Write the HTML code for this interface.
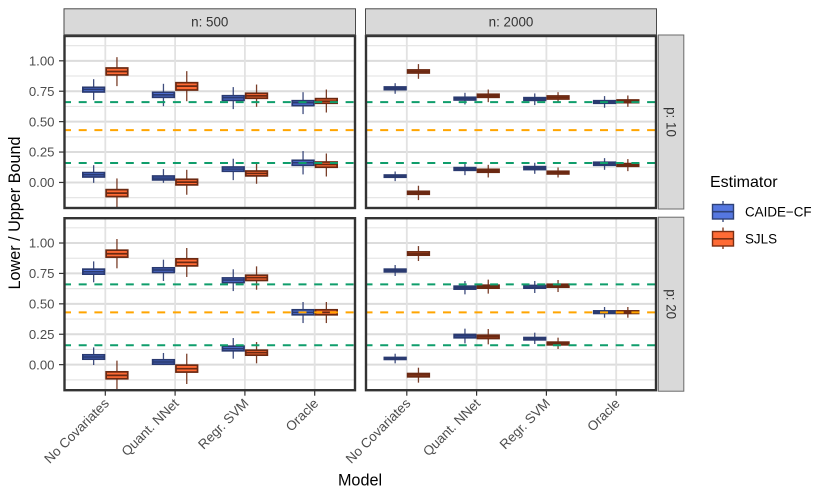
<!DOCTYPE html>
<html>
<head>
<meta charset="utf-8">
<title>Lower / Upper Bound by Model</title>
<style>
html,body{margin:0;padding:0;background:#fff;}
svg{display:block;font-family:"Liberation Sans",sans-serif;}
</style>
</head>
<body>
<svg id="chart" xmlns="http://www.w3.org/2000/svg" width="830" height="498" viewBox="0 0 830 498">
<rect x="0" y="0" width="830" height="498" fill="#ffffff"/>
<text x="360" y="485.5" font-size="16.2" text-anchor="middle" fill="#000">Model</text>
<text transform="translate(20 213) rotate(-90)" font-size="16.2" text-anchor="middle" fill="#000">Lower / Upper Bound</text>
<g>
<text x="710" y="187" font-size="16" fill="#000">Estimator</text>
<g>
<line x1="723" y1="201" x2="723" y2="222" stroke="#2e4177" stroke-width="1.3"/>
<rect x="712.5" y="204.5" width="21" height="14.5" fill="#5577e0" stroke="#2e4177" stroke-width="1.4"/>
<line x1="712.5" y1="211.7" x2="733.5" y2="211.7" stroke="#2e4177" stroke-width="1.6"/>
<text x="745" y="216.5" font-size="13.4" fill="#000">CAIDE−CF</text>
</g>
<g>
<line x1="723" y1="227.5" x2="723" y2="249" stroke="#7a2e12" stroke-width="1.3"/>
<rect x="712.5" y="231.5" width="21" height="14.5" fill="#ff6b35" stroke="#7a2e12" stroke-width="1.4"/>
<line x1="712.5" y1="238.8" x2="733.5" y2="238.8" stroke="#7a2e12" stroke-width="1.6"/>
<text x="745" y="243.5" font-size="13.4" fill="#000">SJLS</text>
</g>
</g>
</svg>
<script>
// Chart data: each row is [lower whisker, Q1, median, Q3, upper whisker]; null = no box
const categories = ["No Covariates", "Quant. NNet", "Regr. SVM", "Oracle"];
const yTickValues = [0, 0.25, 0.5, 0.75, 1];
const yTickLabels = ["0.00", "0.25", "0.50", "0.75", "1.00"];
const yMinorValues = [-0.125, 0.125, 0.375, 0.625, 0.875, 1.125];
const greenRefValues = [0.16, 0.66];
const orangeRefValues = [0.43];
const columnLabels = ["n: 500", "n: 2000"];
const rowLabels = ["p: 10", "p: 20"];

const n500p10CaideUpper = [[.677,.737,.764,.789,.849],[.627,.693,.72,.748,.811],[.603,.668,.696,.72,.784],[.562,.625,.655,.679,.742]];
const n500p10SjlsUpper = [[.792,.877,.912,.948,1.03],[.668,.753,.792,.827,.915],[.622,.685,.712,.74,.805],[.575,.644,.668,.696,.764]];
const n500p10CaideLower = [[-.003,.038,.063,.088,.142],[-.003,.014,.036,.06,.11],[.019,.085,.11,.134,.195],[.066,.134,.162,.189,.258]];
const n500p10SjlsLower = [[-.205,-.123,-.088,-.052,.033],[-.101,-.027,.003,.033,.104],[-.011,.047,.074,.101,.153],[.049,.118,.148,.175,.238]];

const n2000p10CaideUpper = [[.729,.756,.775,.792,.816],[.641,.671,.69,.707,.737],[.636,.668,.685,.704,.732],[.614,.644,.663,.679,.71]];
const n2000p10SjlsUpper = [[.852,.893,.912,.932,.973],[.66,.693,.712,.732,.764],[.66,.679,.699,.718,.742],[.622,.649,.668,.685,.715]];
const n2000p10CaideLower = [[.011,.036,.052,.068,.09],[.06,.093,.11,.129,.156],[.071,.099,.118,.137,.162],[.104,.134,.153,.173,.2]];
const n2000p10SjlsLower = [[-.145,-.104,-.085,-.066,-.027],[.041,.077,.096,.115,.145],[.041,.063,.082,.099,.123],[.093,.126,.142,.162,.192]];

const n500p20CaideUpper = [[.677,.737,.764,.792,.849],[.688,.751,.778,.803,.863],[.605,.668,.696,.72,.784],[.342,.403,.43,.458,.515]];
const n500p20SjlsUpper = [[.792,.877,.912,.948,1.033],[.721,.805,.841,.877,.959],[.616,.685,.715,.742,.808],[.342,.403,.43,.458,.515]];
const n500p20CaideLower = [[-.003,.038,.063,.088,.142],[-.003,-.003,.022,.047,.096],[.049,.107,.132,.159,.219],null];
const n500p20SjlsLower = [[-.208,-.123,-.088,-.052,.033],[-.159,-.068,-.033,.003,.09],[.011,.071,.099,.126,.186],null];

const n2000p20CaideUpper = [[.729,.756,.775,.792,.819],[.578,.614,.633,.652,.688],[.589,.622,.638,.658,.688],[.386,.414,.433,.449,.474]];
const n2000p20SjlsUpper = [[.852,.893,.912,.934,.975],[.584,.622,.641,.66,.699],[.597,.63,.649,.668,.696],[.386,.414,.433,.449,.474]];
const n2000p20CaideLower = [[.011,.036,.052,.066,.09],[.175,.214,.236,.255,.296],[.17,.197,.214,.23,.263],null];
const n2000p20SjlsLower = [[-.148,-.107,-.085,-.066,-.025],[.167,.208,.23,.249,.293],[.129,.156,.175,.192,.222],null];

const panelSeries = [
  [
    [[n500p10CaideUpper, "caide", "upper"], [n500p10SjlsUpper, "sjls", "upper"], [n500p10CaideLower, "caide", "lower"], [n500p10SjlsLower, "sjls", "lower"]],
    [[n2000p10CaideUpper, "caide", "upper"], [n2000p10SjlsUpper, "sjls", "upper"], [n2000p10CaideLower, "caide", "lower"], [n2000p10SjlsLower, "sjls", "lower"]]
  ],
  [
    [[n500p20CaideUpper, "caide", "upper"], [n500p20SjlsUpper, "sjls", "upper"], [n500p20CaideLower, "caide", "lower"], [n500p20SjlsLower, "sjls", "lower"]],
    [[n2000p20CaideUpper, "caide", "upper"], [n2000p20SjlsUpper, "sjls", "upper"], [n2000p20CaideLower, "caide", "lower"], [n2000p20SjlsLower, "sjls", "lower"]]
  ]
];

// Layout and axis functions
const svg = document.getElementById("chart");
const NS = "http://www.w3.org/2000/svg";
const panelLefts = [64.5, 366];
const panelWidths = [290.5, 290];
const panelTops = [36, 218.2];
const panelHeight = 172;
const yMin = -0.21, yMax = 1.204;
const catPad = 40.8, catStep = 69.8, boxWidth = 23.3;
const edgeWidth = 1.7;
const styles = {
  caide: {fill: "#5577e0", edge: "#2a3a70"},
  sjls: {fill: "#ff6b35", edge: "#6b2912"}
};

function yScale(row, v) {
  return panelTops[row] + (yMax - v) / (yMax - yMin) * panelHeight;
}
function xScale(col, i) {
  return panelLefts[col] + catPad + i * catStep;
}
function make(tag, attrs, parent, text) {
  const el = document.createElementNS(NS, tag);
  for (const k in attrs) el.setAttribute(k, attrs[k]);
  if (text !== undefined) el.textContent = text;
  parent.appendChild(el);
  return el;
}

rowLabels.forEach(function (rowLabel, r) {
  columnLabels.forEach(function (colLabel, c) {
    const L = panelLefts[c], W = panelWidths[c], T = panelTops[r], H = panelHeight;
    const panel = make("g", {}, svg);
    
    

    yMinorValues.forEach(function (v) {
      const y = yScale(r, v);
      const g = make("line", {x1: L, x2: L + W, y1: y, y2: y, stroke: "#e6e6e6", "stroke-width": 1.2}, panel);
      
      
    });
    yTickValues.forEach(function (v) {
      const y = yScale(r, v);
      const g = make("line", {x1: L, x2: L + W, y1: y, y2: y, stroke: "#dcdcdc", "stroke-width": 2}, panel);
      
      
    });
    categories.forEach(function (cat, i) {
      const x = xScale(c, i);
      const g = make("line", {x1: x, x2: x, y1: T, y2: T + H, stroke: "#e2e2e2", "stroke-width": 1.8}, panel);
      
      
    });

    panelSeries[r][c].forEach(function (series) {
      const rows = series[0], key = series[1], bound = series[2], st = styles[key];
      const sign = key === "caide" ? -1 : 1;
      rows.forEach(function (d, i) {
        if (!d) return;
        const cx = xScale(c, i) + sign * boxWidth / 2;
        const inset = edgeWidth / 2;
        const x0 = cx - boxWidth / 2 + inset;
        const bw = boxWidth - edgeWidth;
        const top = yScale(r, d[3]) + inset;
        const boxH = Math.max(0.4, yScale(r, d[1]) - yScale(r, d[3]) - edgeWidth);
        const box = make("g", {}, panel);
        
        
        make("line", {x1: cx, x2: cx, y1: yScale(r, d[0]), y2: yScale(r, d[4]), stroke: st.edge, "stroke-width": 1.3, "stroke-opacity": 0.9}, box);
        make("rect", {x: x0, y: top, width: bw, height: boxH, fill: st.fill, stroke: st.edge, "stroke-width": edgeWidth}, box);
        make("line", {x1: x0, x2: x0 + bw, y1: yScale(r, d[2]), y2: yScale(r, d[2]), stroke: st.edge, "stroke-width": 1.7}, box);
      });
    });

    greenRefValues.forEach(function (v) {
      const y = yScale(r, v);
      const g = make("line", {x1: L, x2: L + W, y1: y, y2: y, stroke: "#0f9d6b", "stroke-width": 2, "stroke-dasharray": "8 7.7", "stroke-dashoffset": 1.5}, panel);
      
      
    });
    orangeRefValues.forEach(function (v) {
      const y = yScale(r, v);
      const g = make("line", {x1: L, x2: L + W, y1: y, y2: y, stroke: "#ffa500", "stroke-width": 2, "stroke-dasharray": "8 7.7", "stroke-dashoffset": 1.5}, panel);
      
      
    });

    const border = make("rect", {x: L, y: T, width: W, height: H, fill: "none", stroke: "#333333", "stroke-width": 2.4}, panel);
    
    

    if (c === 0) {
      yTickValues.forEach(function (v, k) {
        const y = yScale(r, v);
        const t = make("line", {x1: L - 5.5, x2: L, y1: y, y2: y, stroke: "#333333", "stroke-width": 1.2}, svg);
        
        
        const lab = make("text", {x: 54.5, y: y + 4.7, "font-size": 13.2, "text-anchor": "end", fill: "#4d4d4d"}, svg, yTickLabels[k]);
        
        
      });
    }
    if (r === 1) {
      categories.forEach(function (cat, i) {
        const x = xScale(c, i);
        const t = make("line", {x1: x, x2: x, y1: T + H, y2: T + H + 5.5, stroke: "#333333", "stroke-width": 1.2}, svg);
        
        
        const lab = make("text", {transform: "translate(" + (x + 4.5) + " " + (T + H + 14) + ") rotate(-45)", "font-size": 13.4, "text-anchor": "end", fill: "#4d4d4d"}, svg, cat);
        
        
      });
    }
    if (r === 0) {
      const strip = make("rect", {x: L - 0.5, y: 8.8, width: W + 1, height: 26, fill: "#d9d9d9", stroke: "#4a4a4a", "stroke-width": 1}, svg);
      
      
      const lab = make("text", {x: L + W / 2, y: 26.5, "font-size": 13.4, "text-anchor": "middle", fill: "#333"}, svg, colLabel);
      
      
    }
    if (c === 1) {
      const strip = make("rect", {x: 658.3, y: T - 1, width: 25.5, height: H + 2, fill: "#d9d9d9", stroke: "#6a6a6a", "stroke-width": 1}, svg);
      
      
      const lab = make("text", {transform: "translate(666.5 " + (T + H / 2) + ") rotate(90)", "font-size": 13.4, "text-anchor": "middle", fill: "#333"}, svg, rowLabel);
      
      
    }
  });
});
</script>
</body>
</html>
